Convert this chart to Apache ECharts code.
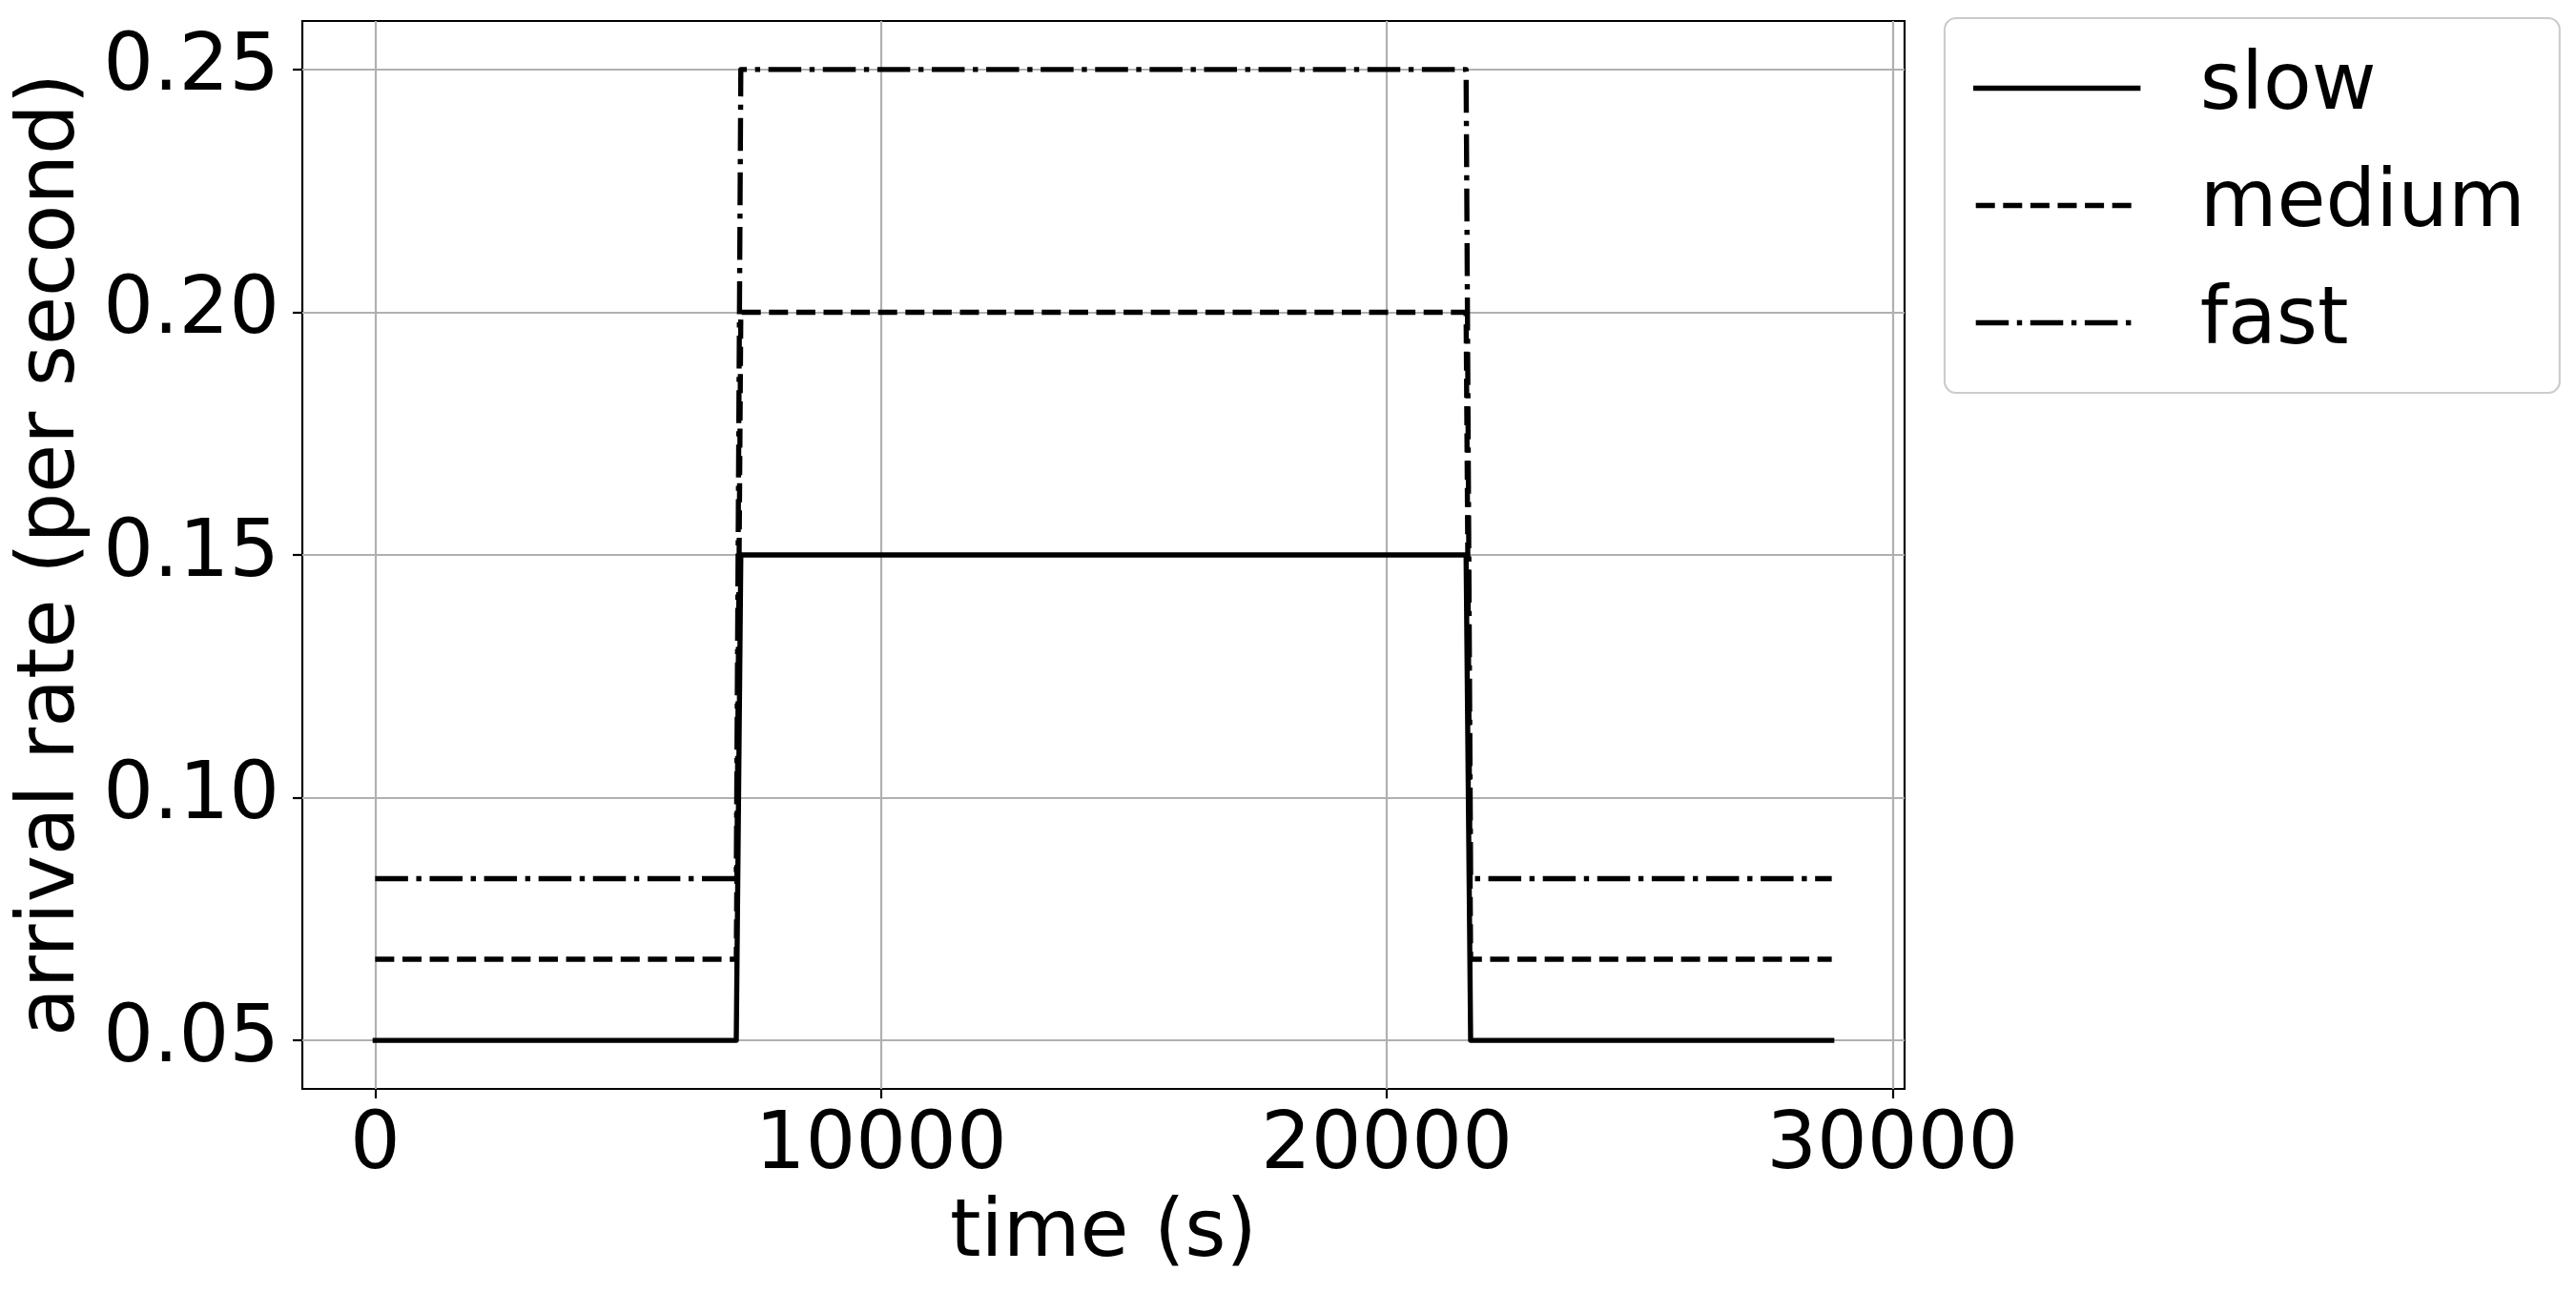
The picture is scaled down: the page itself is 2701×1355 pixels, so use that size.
<!DOCTYPE html>
<html>
<head>
<meta charset="utf-8">
<script src="https://cdn.jsdelivr.net/npm/echarts@6/dist/echarts.min.js"></script>
<style>
  html, body { margin: 0; padding: 0; background: #fff; }
  #chart { width: 2701px; height: 1355px; }
</style>
</head>
<body>
<div id="chart"></div>
<script>
// time samples (s) and arrival rates (per second)
const times = [0, 7140, 7230, 21570, 21660, 28800];
const slowRates = [0.05, 0.05, 0.15, 0.15, 0.05, 0.05];
const mediumRates = [0.0667, 0.0667, 0.2, 0.2, 0.0667, 0.0667];
const fastRates = [0.0833, 0.0833, 0.25, 0.25, 0.0833, 0.0833];
const seriesNames = ['slow', 'medium', 'fast'];

const xTicks = [0, 10000, 20000, 30000];
const yTicks = [0.05, 0.10, 0.15, 0.20, 0.25];

const FONT = 'DejaVu Sans';
const LW = 5.4;

const pairs = (ys) => times.map((t, i) => [t, ys[i]]);

const chart = echarts.init(document.getElementById('chart'));

const axisCommon = {
  axisLine: { show: false, onZero: false },
  axisTick: {
    show: true,
    inside: false,
    length: 10,
    lineStyle: { color: '#000', width: 2.2 }
  },
  splitLine: {
    show: true,
    lineStyle: { color: '#b0b0b0', width: 2.2 }
  }
};

const option = {
  animation: false,
  backgroundColor: '#fff',
  grid: {
    left: 317,
    right: 704,
    top: 22,
    bottom: 213,
    show: true,
    borderColor: '#000',
    borderWidth: 2.2,
    backgroundColor: 'transparent'
  },
  legend: {
    left: 2039,
    top: 19,
    orient: 'vertical',
    padding: [32, 36, 32, 30],
    itemGap: 40,
    itemWidth: 170,
    itemHeight: 14,
    backgroundColor: '#fff',
    borderColor: '#cccccc',
    borderWidth: 2.2,
    borderRadius: 12,
    itemStyle: { opacity: 0 },
    lineStyle: { width: LW },
    textStyle: {
      fontFamily: FONT,
      fontSize: 83,
      color: '#000',
      padding: [0, 0, 0, 60]
    },
    data: seriesNames
  },
  xAxis: {
    type: 'value',
    min: -1440,
    max: 30240,
    name: 'time (s)',
    nameLocation: 'middle',
    nameGap: 112,
    nameTextStyle: { fontFamily: FONT, fontSize: 83, color: '#000' },
    ...axisCommon,
    axisTick: { ...axisCommon.axisTick, customValues: xTicks },
    axisLabel: {
      customValues: xTicks,
      margin: 20,
      fontFamily: FONT,
      fontSize: 83,
      color: '#000',
      formatter: (v) => String(v)
    }
  },
  yAxis: {
    type: 'value',
    min: 0.04,
    max: 0.26,
    name: 'arrival rate (per second)',
    nameLocation: 'middle',
    nameRotate: 90,
    nameGap: 208,
    nameTextStyle: { fontFamily: FONT, fontSize: 83, color: '#000' },
    ...axisCommon,
    axisTick: { ...axisCommon.axisTick, customValues: yTicks },
    axisLabel: {
      customValues: yTicks,
      margin: 24,
      fontFamily: FONT,
      fontSize: 83,
      color: '#000',
      formatter: (v) => v.toFixed(2)
    }
  },
  series: [
    {
      name: 'slow',
      type: 'line',
      data: pairs(slowRates),
      symbol: 'none',
      lineStyle: { color: '#000', width: LW, type: 'solid', cap: 'square', join: 'round' },
      itemStyle: { color: '#000' }
    },
    {
      name: 'medium',
      type: 'line',
      data: pairs(mediumRates),
      symbol: 'none',
      lineStyle: { color: '#000', width: LW, type: [20, 8.6], cap: 'butt', join: 'round' },
      itemStyle: { color: '#000' }
    },
    {
      name: 'fast',
      type: 'line',
      data: pairs(fastRates),
      symbol: 'none',
      lineStyle: { color: '#000', width: LW, type: [34.5, 8.6, 5.4, 8.6], cap: 'butt', join: 'round' },
      itemStyle: { color: '#000' }
    }
  ]
};

chart.setOption(option);
</script>
</body>
</html>
